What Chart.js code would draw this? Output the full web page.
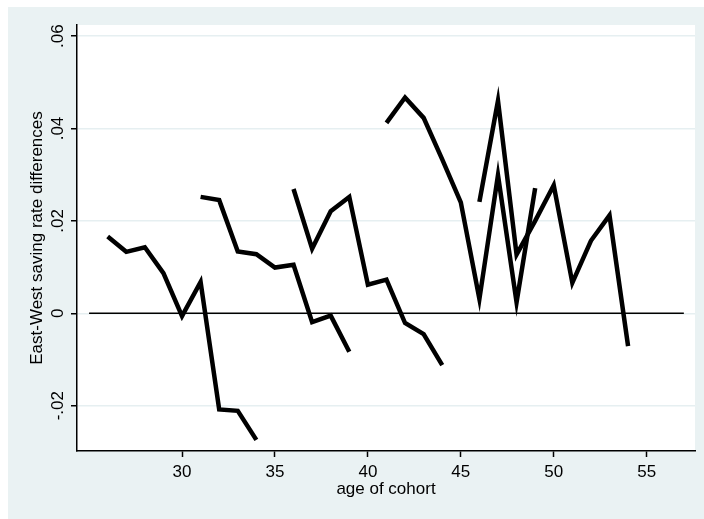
<!DOCTYPE html>
<html>
<head>
<meta charset="utf-8">
<script src="https://cdn.jsdelivr.net/npm/chart.js@4.4.1/dist/chart.umd.min.js"></script>
<style>
  html, body { margin: 0; padding: 0; background: #ffffff; }
  canvas { display: block; }
</style>
</head>
<body>
<canvas id="chart" width="704" height="519"></canvas>
<script>
// Ages observed for each cohort
const agesCohort1 = [26, 27, 28, 29, 30, 31, 32, 33, 34];
const agesCohort2 = [31, 32, 33, 34, 35, 36, 37, 38, 39];
const agesCohort3 = [36, 37, 38, 39, 40, 41, 42, 43, 44];
const agesCohort4 = [41, 42, 43, 44, 45, 46, 47, 48, 49];
const agesCohort5 = [46, 47, 48, 49, 50, 51, 52, 53, 54];

// East-West saving rate differences per cohort
const diffCohort1 = [0.0166, 0.0133, 0.0143, 0.0087, -0.0006, 0.0068, -0.0208, -0.0211, -0.0274];
const diffCohort2 = [0.0252, 0.0245, 0.0134, 0.0128, 0.0099, 0.0105, -0.0019, -0.0005, -0.0083];
const diffCohort3 = [0.0269, 0.0140, 0.0221, 0.0252, 0.0062, 0.0073, -0.0021, -0.0045, -0.0112];
const diffCohort4 = [0.0412, 0.0467, 0.0423, 0.0333, 0.0240, 0.0031, 0.0299, 0.0024, 0.0271];
const diffCohort5 = [0.0241, 0.0460, 0.0127, 0.0200, 0.0277, 0.0066, 0.0157, 0.0212, -0.0071];

// Reference line at zero
const zeroAges = [25, 57];
const zeroValues = [0, 0];

// Axis ticks
const xTickValues = [30, 35, 40, 45, 50, 55];
const yTickValues = [-0.02, 0, 0.02, 0.04, 0.06];
const yTickLabels = ['-.02', '0', '.02', '.04', '.06'];

const FONT = 'Liberation Sans, Arial, sans-serif';

function points(xs, ys) {
  return xs.map((x, i) => ({ x: x, y: ys[i] }));
}

function cohortSet(xs, ys) {
  return {
    data: points(xs, ys),
    borderColor: '#000000',
    borderWidth: 4.5,
    borderJoinStyle: 'miter',
    pointRadius: 0,
    tension: 0,
    fill: false
  };
}

// Panel backgrounds and rotated y tick labels
const framePlugin = {
  id: 'framePlugin',
  beforeDraw(chart) {
    const { ctx, chartArea: a } = chart;
    ctx.save();
    ctx.fillStyle = '#eaf2f3';
    ctx.fillRect(8, 7, chart.width - 8, chart.height - 7);
    ctx.fillStyle = '#ffffff';
    ctx.fillRect(a.left, a.top, a.right - a.left, a.bottom - a.top);
    ctx.restore();
  },
  afterDraw(chart) {
    const { ctx } = chart;
    const ys = chart.scales.y;
    ctx.save();
    ctx.fillStyle = '#000000';
    ctx.font = '17px ' + FONT;
    ctx.textAlign = 'center';
    ctx.textBaseline = 'middle';
    yTickValues.forEach((v, i) => {
      const py = ys.getPixelForValue(v);
      ctx.save();
      ctx.translate(ys.right - 19, py);
      ctx.rotate(-Math.PI / 2);
      ctx.fillText(yTickLabels[i], 0, 0);
      ctx.restore();
    });
    ctx.restore();
  }
};

new Chart(document.getElementById('chart'), {
  type: 'line',
  data: {
    datasets: [
      cohortSet(agesCohort1, diffCohort1),
      cohortSet(agesCohort2, diffCohort2),
      cohortSet(agesCohort3, diffCohort3),
      cohortSet(agesCohort4, diffCohort4),
      cohortSet(agesCohort5, diffCohort5),
      {
        data: points(zeroAges, zeroValues),
        borderColor: '#000000',
        borderWidth: 1.5,
        pointRadius: 0,
        tension: 0,
        fill: false
      }
    ]
  },
  options: {
    responsive: false,
    animation: false,
    devicePixelRatio: 1,
    layout: { padding: { left: 0, right: 9, top: 25, bottom: 0 } },
    plugins: {
      legend: { display: false },
      tooltip: { enabled: false }
    },
    scales: {
      x: {
        type: 'linear',
        min: 24.35,
        max: 57.6,
        afterBuildTicks: s => { s.ticks = xTickValues.map(v => ({ value: v })); },
        afterFit: s => { s.height = 68; },
        border: { color: '#000000', width: 1.5 },
        grid: {
          drawOnChartArea: false,
          drawTicks: true,
          tickLength: 6,
          tickColor: '#000000',
          tickWidth: 1.5
        },
        ticks: {
          color: '#000000',
          font: { family: FONT, size: 17 },
          padding: 5,
          maxRotation: 0,
          autoSkip: false
        },
        title: {
          display: true,
          text: 'age of cohort',
          color: '#000000',
          font: { family: FONT, size: 17 },
          padding: { top: 0, bottom: 19 }
        }
      },
      y: {
        type: 'linear',
        min: -0.0298,
        max: 0.0624,
        afterBuildTicks: s => { s.ticks = yTickValues.map(v => ({ value: v })); },
        afterFit: s => { s.width = 77; },
        border: { color: '#000000', width: 1.5 },
        grid: {
          color: '#e6eff1',
          lineWidth: 1.5,
          drawTicks: true,
          tickLength: 6,
          tickColor: '#000000',
          tickWidth: 1.5
        },
        ticks: { display: false },
        title: {
          display: true,
          text: 'East-West saving rate differences',
          color: '#000000',
          font: { family: FONT, size: 17 },
          padding: { top: 27, bottom: 0 }
        }
      }
    }
  },
  plugins: [framePlugin]
});
</script>
</body>
</html>
